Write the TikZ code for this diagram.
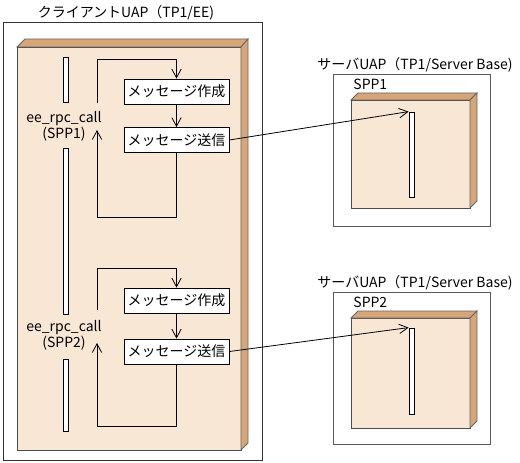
\documentclass[tikz,border=0pt]{standalone}
\usepackage{fontspec}
\setmainfont{Noto Sans CJK JP}
\usetikzlibrary{arrows.meta, fit}
\definecolor{facefront}{RGB}{249,231,214}
\definecolor{faceside}{RGB}{214,166,121}

\begin{document}
\begin{tikzpicture}[x=0.75pt, y=-0.75pt, line width=0.6pt,
		every node/.style={font=\fontsize{10.5pt}{12pt}\selectfont},
		msg/.style={draw, fill=white, minimum width=78.75pt, minimum height=18.75pt, inner sep=1pt},
		bar/.style={draw, fill=white, inner sep=0pt},
		arr/.style={-{Straight Barb[length=6.5pt, width=7pt]}}]
			\useasboundingbox (0,0) rectangle (520,463);

			% Client UAP (frame and title)
			\draw[black!80] (3,22) rectangle (262,460);
			\node (cuap) at (126,13) {クライアントUAP（TP1/EE)};

			% Block of the client
			\filldraw[fill=facefront, draw=black!70] (17,47) rectangle (241,450);
			\filldraw[fill=faceside, draw=black!60] (17,47) -- (25,39) -- (248,39) -- (241,47) -- cycle; % top
			\filldraw[fill=faceside, draw=black!60] (241,47) -- (248,39) -- (248,443) -- (241,450) -- cycle; % side

			% Bars of the client
			\node[bar, fit={(63,57) (68,102)}] (cbA) {};
			\node[bar, fit={(63,148) (68,314)}] (cbB) {};
			\node[bar, fit={(63,359) (68,431)}] (cbC) {};

			% Labels for calls
			\node[align=center] (callA) at (64,126) {ee\_rpc\_call\\(SPP1)};
			\node[align=center] (callB) at (64,335) {ee\_rpc\_call\\(SPP2)};

			% Message boxes
			\node[msg] (mkA) at (176.5,91.5) {メッセージ作成};
			\node[msg] (sdA) at (176.5,140) {メッセージ送信};
			\node[msg] (mkB) at (176.5,300.5) {メッセージ作成};
			\node[msg] (sdB) at (176.5,351.5) {メッセージ送信};

			% Loop corners
			\coordinate (stA) at (97,103);
			\coordinate (topA) at (97,59);
			\coordinate (botA) at (97,217);
			\coordinate (tipA) at (97,130);
			\coordinate (stB) at (97,310);
			\coordinate (topB) at (97,268);
			\coordinate (botB) at (97,426);
			\coordinate (tipB) at (97,343);

			% Draw loops
			\draw[arr] (stA) -- (topA) -| (mkA.north);
			\draw[arr] (mkA) -- (sdA);
			\draw[arr] (sdA.south) |- (botA) -- (tipA);
			\draw[arr] (stB) -- (topB) -| (mkB.north);
			\draw[arr] (mkB) -- (sdB);
			\draw[arr] (sdB.south) |- (botB) -- (tipB);

			% Server UAP 1
			\draw[black!65] (333,74) rectangle (490,226);
			\node (suapA) at (415,65) {サーバUAP（TP1/Server Base)};
			\node[right, inner sep=0pt] (sppA) at (353,84) {SPP1};
			\filldraw[fill=facefront, draw=black!70] (351,100) rectangle (470,208);
			\filldraw[fill=faceside, draw=black!60] (351,100) -- (358,93) -- (477,93) -- (470,100) -- cycle;
			\filldraw[fill=faceside, draw=black!60] (470,100) -- (477,93) -- (477,201) -- (470,208) -- cycle;
			\node[bar, fit={(409,112) (414,197)}] (sbA) {};

			% Server UAP 2
			\draw[black!65] (333,292) rectangle (490,444);
			\node (suapB) at (415,283) {サーバUAP（TP1/Server Base)};
			\node[right, inner sep=0pt] (sppB) at (353,302) {SPP2};
			\filldraw[fill=facefront, draw=black!70] (351,318) rectangle (470,428);
			\filldraw[fill=faceside, draw=black!60] (351,318) -- (358,311) -- (477,311) -- (470,318) -- cycle;
			\filldraw[fill=faceside, draw=black!60] (470,318) -- (477,311) -- (477,421) -- (470,428) -- cycle;
			\node[bar, fit={(409,328) (414,414)}] (sbB) {};

			% Draw calls to the servers
			\draw[arr] (sdA.east) -- (sbA.north west);
			\draw[arr] (sdB.east) -- (sbB.north west);
		\end{tikzpicture}
\end{document}
